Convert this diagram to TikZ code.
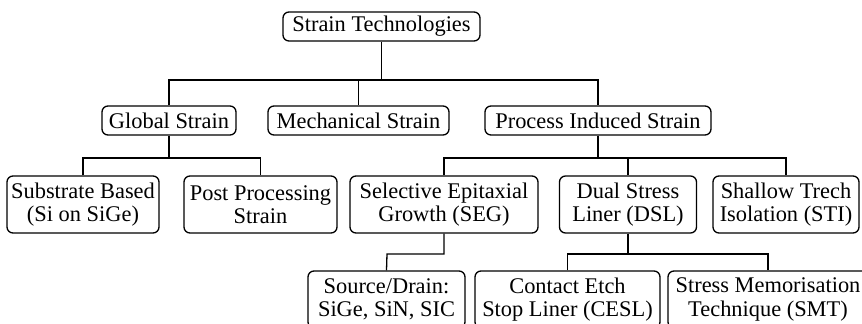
\documentclass[tikz,border=0pt]{standalone}
\usepackage{fontspec}
\setmainfont{Liberation Serif}
\newfontfamily\boxfont{Liberation Serif}

\begin{document}
\begin{tikzpicture}
[x=0.5pt,y=-0.5pt,line width=0.65pt]
\tikzstyle{every node}=[draw,rounded corners=3pt,align=center,inner sep=0pt,
    font=\boxfont\fontsize{11.2}{11.6}\selectfont]
\tikzstyle{onebox}=[minimum height=14.5pt]
\tikzstyle{twobox}=[minimum height=28.5pt]
\path[use as bounding box,clip] (0,0) rectangle (862,324);

% top level
\node[onebox,minimum width=98.5pt] (root) at (381.5,26.5) {Strain Technologies};

% second level
\node[onebox,minimum width=67pt] (global) at (169,120.5) {Global Strain};
\node[onebox,minimum width=90.5pt] (mech) at (358.5,120.5) {Mechanical Strain};
\node[onebox,minimum width=113pt] (process) at (598,120.5) {Process Induced Strain};

% third level
\node[twobox,minimum width=76pt] (subst) at (83,204.5) {Substrate Based\\(Si on SiGe)};
\node[twobox,minimum width=76.5pt] (post) at (260.5,204.5) {Post Processing\\Strain};
\node[twobox,minimum width=94pt] (seg) at (444,204.5) {Selective Epitaxial\\Growth (SEG)};
\node[twobox,minimum width=68.5pt] (dsl) at (628,204.5) {Dual Stress\\Liner (DSL)};
\node[twobox,minimum width=73pt] (sti) at (786,204.5) {Shallow Trech\\Isolation (STI)};

% fourth level
\node[twobox,minimum width=78.5pt] (srcdrain) at (386.5,299.5) {Source/Drain:\\SiGe, SiN, SIC};
\node[twobox,minimum width=92.5pt] (cesl) at (567.5,299.5) {Contact Etch\\Stop Liner (CESL)};
\node[twobox,minimum width=100pt] (smt) at (768,299.5) {Stress Memorisation\\Technique (SMT)};

% forks
\coordinate (rootj) at (381.5,80);
\coordinate (globalj) at (169,158);
\coordinate (processj) at (598,158);
\coordinate (segj) at (387,254);
\coordinate (dslj) at (628,254);

\draw (root.south) -- (rootj);
\draw (global.north) |- (rootj) -| (process.north);
\draw (mech.north) -- (mech.north |- rootj);

\draw (global.south) -- (globalj);
\draw (subst.north) |- (globalj) -| (post.north);

\draw (process.south) -- (processj);
\draw (seg.north) |- (processj) -| (sti.north);
\draw (dsl.north) -- (dsl.north |- processj);

\draw (seg.south) |- (segj) -- (srcdrain.north);
\draw (dsl.south) -- (dslj);
\draw (cesl.north) |- (dslj) -| (smt.north);
\end{tikzpicture}
\end{document}
